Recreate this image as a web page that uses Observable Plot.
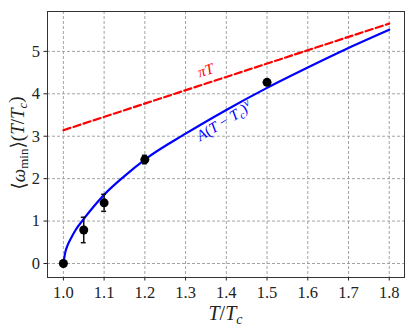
<!DOCTYPE html>
<html><head><meta charset="utf-8">
<script src="https://cdn.jsdelivr.net/npm/d3@7"></script>
<script src="https://cdn.jsdelivr.net/npm/@observablehq/plot@0.6"></script>
<style>body{margin:0;background:#fff}</style>
</head><body><div id="chart"></div>
<script>
const xTicks = [1.0, 1.1, 1.2, 1.3, 1.4, 1.5, 1.6, 1.7, 1.8];
const yTicks = [0, 1, 2, 3, 4, 5];
const pointT = [1.0, 1.05, 1.1, 1.2, 1.5];
const pointW = [0, 0.79, 1.43, 2.45, 4.27];
const pointErr = [0, 0.30, 0.20, 0.10, 0.05];
const fitT = [1.0, 1.005, 1.01, 1.02, 1.03, 1.05, 1.075, 1.1, 1.15, 1.2, 1.3, 1.4, 1.5, 1.6, 1.7, 1.8];
const fitW = [0, 0.28, 0.42, 0.62, 0.79, 1.05, 1.35, 1.62, 2.06, 2.45, 3.06, 3.62, 4.14, 4.62, 5.08, 5.51];
const piT = [1.0, 1.8];
const piW = [3.1416, 5.6549];

const points = pointT.map((t, i) => ({t, w: pointW[i], e: pointErr[i]}));
const fit = fitT.map((t, i) => ({t, w: fitW[i]}));
const piLine = piT.map((t, i) => ({t, w: piW[i]}));
const capHalf = 0.006;

const serif = "'Liberation Serif', 'DejaVu Serif', serif";

const svg = Plot.plot({
  width: 416, height: 332,
  marginLeft: 47, marginRight: 12, marginTop: 11, marginBottom: 55,
  style: {fontFamily: serif, fontSize: "16px", color: "#222", background: "#fff"},
  x: {domain: [0.961, 1.8375], ticks: xTicks, tickFormat: d3.format(".1f"), label: null, tickSize: 3.5, tickPadding: 5},
  y: {domain: [-0.33, 5.94], ticks: yTicks, tickFormat: d3.format("d"), label: null, tickSize: 3.5, tickPadding: 4},
  marks: [
    Plot.ruleX(xTicks, {stroke: "#9a9a9a", strokeDasharray: "3,2", strokeWidth: 0.9}),
    Plot.ruleY(yTicks, {stroke: "#9a9a9a", strokeDasharray: "3,2", strokeWidth: 0.9}),
    Plot.line(piLine, {x: "t", y: "w", stroke: "#ff0000", strokeWidth: 2.2, strokeDasharray: "7.4,3.2"}),
    Plot.line(fit, {x: "t", y: "w", stroke: "#0000ff", strokeWidth: 2.2, curve: "monotone-x"}),
    Plot.ruleX(points.filter(d => d.e > 0), {x: "t", y1: d => d.w - d.e, y2: d => d.w + d.e, stroke: "#111", strokeWidth: 1.5}),
    Plot.ruleY(points.filter(d => d.e > 0), {y: d => d.w - d.e, x1: d => d.t - capHalf, x2: d => d.t + capHalf, stroke: "#111", strokeWidth: 1.5}),
    Plot.ruleY(points.filter(d => d.e > 0), {y: d => d.w + d.e, x1: d => d.t - capHalf, x2: d => d.t + capHalf, stroke: "#111", strokeWidth: 1.5}),
    Plot.dot(points, {x: "t", y: "w", r: 4.5, fill: "#000", stroke: "none"}),
    Plot.text(["πT"], {x: 1.349, y: 4.55, text: d => d, rotate: -18, fill: "#ff0000", fontSize: 15, fontStyle: "italic"}),
    Plot.text(["A(T − Tc)ν"], {x: 1.395, y: 3.35, text: d => d, rotate: -31, fill: "#0000ff", fontSize: 15}),
    Plot.frame({stroke: "#333", strokeWidth: 1})
  ]
});

const root = d3.select(svg);
const numberRe = /^[0-9.]+$/;
root.selectAll("text").each(function() {
  const t = d3.select(this);
  t.style("font-family", serif, "important");
  if (numberRe.test(this.textContent.trim())) {
    t.style("font-size", "16.5px", "important").style("font-variant", "normal", "important").attr("fill", "#222");
  }
});

// rich fit label
const ft = root.selectAll("text").filter(function() { return this.textContent === "A(T − Tc)ν"; });
ft.text("");
ft.append("tspan").attr("font-style", "italic").text("A");
ft.append("tspan").text("(");
ft.append("tspan").attr("font-style", "italic").text("T");
ft.append("tspan").text(" − ");
ft.append("tspan").attr("font-style", "italic").text("T");
ft.append("tspan").attr("font-style", "italic").attr("font-size", "11px").attr("dy", "0.25em").text("c");
ft.append("tspan").attr("dy", "-0.25em").text(")");
ft.append("tspan").attr("font-style", "italic").attr("font-size", "11px").attr("dy", "-0.45em").text("ν");

// axis labels
const xl = root.append("text")
  .attr("transform", "translate(225.5,320)")
  .attr("text-anchor", "middle")
  .style("font-family", serif).attr("font-size", "20px").attr("fill", "#222");
xl.append("tspan").attr("font-style", "italic").text("T");
xl.append("tspan").text("/");
xl.append("tspan").attr("font-style", "italic").text("T");
xl.append("tspan").attr("font-style", "italic").attr("font-size", "14px").attr("dy", "0.25em").text("c");

const yl = root.append("text")
  .attr("transform", "translate(25,143) rotate(-90)")
  .attr("text-anchor", "middle")
  .style("font-family", serif).attr("font-size", "19px").attr("fill", "#222");
yl.append("tspan").text("⟨");
yl.append("tspan").attr("font-style", "italic").text("ω");
yl.append("tspan").attr("font-size", "13px").attr("dy", "0.25em").text("min");
yl.append("tspan").attr("dy", "-0.25em").text("⟩(");
yl.append("tspan").attr("font-style", "italic").text("T");
yl.append("tspan").text("/");
yl.append("tspan").attr("font-style", "italic").text("T");
yl.append("tspan").attr("font-style", "italic").attr("font-size", "13px").attr("dy", "0.25em").text("c");
yl.append("tspan").attr("dy", "-0.25em").text(")");

document.getElementById("chart").appendChild(svg);
</script>
</body></html>
